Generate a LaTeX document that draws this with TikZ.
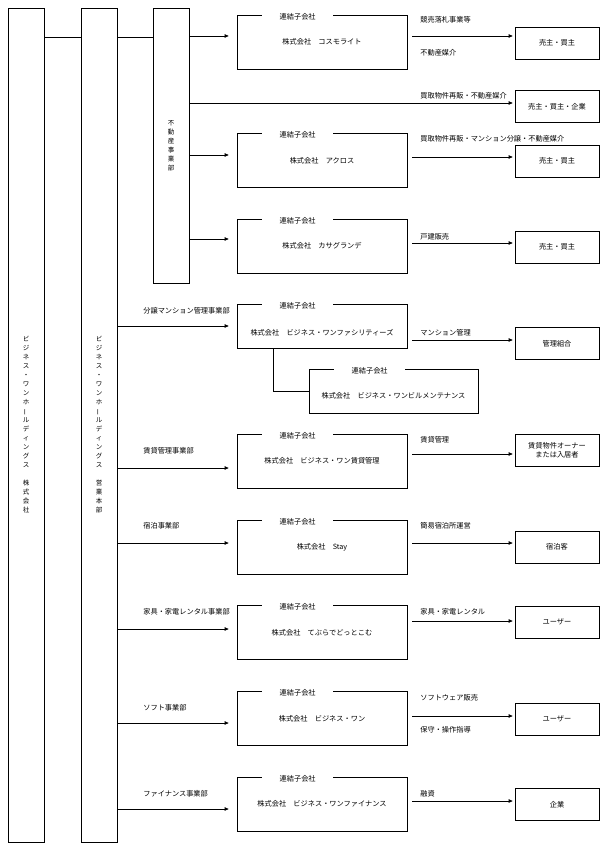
\documentclass[tikz,border=0pt]{standalone}
\usepackage{fontspec}
\setmainfont{Noto Sans CJK JP}
\usetikzlibrary{arrows.meta}

% vertical long vowel mark for the stacked column texts
\newcommand{\tatebar}{\rotatebox[origin=c]{90}{ー}}

\tikzset{
  colbox/.style={draw,minimum width=36pt,align=center,inner sep=0pt,
    font=\fontsize{6.5}{9}\selectfont},
  cobox/.style={draw,minimum width=170pt,minimum height=54pt,inner sep=0pt},
  cotag/.style={fill=white,minimum width=71pt,inner sep=0.6pt},
  client/.style={draw,minimum width=84pt,minimum height=32pt,align=center,inner sep=0pt},
  lbl/.style={anchor=west,inner sep=0pt},
  arr/.style={-{Triangle[length=4pt,width=3.5pt]}}
}

\begin{document}
\begin{tikzpicture}[x=1pt,y=-1pt,line width=0.7pt,font=\fontsize{7.2}{9}\selectfont]
	\useasboundingbox (0,0) rectangle (607,850);

	% columns
	\node[colbox,minimum height=834pt] (hd) at (26,425)
	{ビ\\ジ\\ネ\\ス\\・\\ワ\\ン\\ホ\\\tatebar\\ル\\デ\\ィ\\ン\\グ\\ス\\[9pt]株\\式\\会\\社};
	\node[colbox,minimum height=834pt] (sales) at (99,425)
	{ビ\\ジ\\ネ\\ス\\・\\ワ\\ン\\ホ\\\tatebar\\ル\\デ\\ィ\\ン\\グ\\ス\\[9pt]営\\業\\本\\部};
	\node[colbox,minimum height=275pt] (fudosan) at (171,145.5)
	{不\\動\\産\\事\\業\\部};

	\coordinate (link) at (0,37);
	\draw (hd.east |- link) -- (sales.west |- link);
	\draw (sales.east |- link) -- (fudosan.west |- link);

	% subsidiaries
	\node[cobox] (cosmo) at (322,42) {株式会社　コスモライト};
	\node[cobox] (acros) at (322,160.5) {株式会社　アクロス};
	\node[cobox] (kasa) at (322,246) {株式会社　カサグランデ};
	\node[cobox,minimum height=44pt] (fac) at (322,326) {};
	\node (facname) at (322,333) {株式会社　ビジネス・ワンファシリティーズ};
	\node[cobox,minimum width=169pt,minimum height=44pt] (bm) at (393.5,391) {};
	\node (bmname) at (393.5,396) {株式会社　ビジネス・ワンビルメンテナンス};
	\node[cobox] (chintai) at (322,461) {株式会社　ビジネス・ワン賃貸管理};
	\node[cobox] (stay) at (322,547) {株式会社　Stay};
	\node[cobox] (tepura) at (322,632.5) {株式会社　てぶらでどっとこむ};
	\node[cobox] (bizone) at (322,718.5) {株式会社　ビジネス・ワン};
	\node[cobox] (finance) at (322,804) {株式会社　ビジネス・ワンファイナンス};

	\foreach \c in {cosmo,acros,kasa,fac,bm,chintai,stay,tepura,bizone,finance}
		\node[cotag] (\c-tag) at ([xshift=61pt,yshift=-2pt]\c.north west) {連結子会社};

	\draw ([xshift=37pt]fac.south west) |- (bm.west);

	% customers
	\node[client] (u1) at (557,43) {売主・買主};
	\node[client] (u2) at (557,106.5) {売主・買主・企業};
	\node[client] (u3) at (557,161) {売主・買主};
	\node[client] (u4) at (557,247) {売主・買主};
	\node[client] (u5) at (557,343.5) {管理組合};
	\node[client] (u6) at (557,450) {賃貸物件オーナー\\または入居者};
	\node[client] (u7) at (557,547) {宿泊客};
	\node[client] (u8) at (557,622) {ユーザー};
	\node[client] (u9) at (557,719) {ユーザー};
	\node[client] (u10) at (557,804.5) {企業};

	% arrows into the subsidiaries
	\foreach \c/\d in {cosmo/6,acros/5.5,kasa/7,fac/0,chintai/-7,stay/4,tepura/3.5,bizone/-4.5,finance/-5}
		\coordinate (\c-in) at ([yshift=\d pt]\c.west);
	\foreach \c in {cosmo,acros,kasa}
		\draw[arr,shorten >=8pt] (fudosan.east |- \c-in) -- (\c-in);
	\foreach \c in {fac,chintai,stay,tepura,bizone,finance}
		\draw[arr,shorten >=8pt] (sales.east |- \c-in) -- (\c-in);

	% arrows to the customers
	\foreach \u/\d in {u1/7,u2/3.5,u3/4,u4/4,u5/3.5,u6/-4,u7/4,u8/1,u9/3,u10/3.5}
		\coordinate (\u-in) at ([yshift=\d pt]\u.west);
	\foreach \c/\u in {cosmo/u1,acros/u3,kasa/u4,fac/u5,chintai/u6,stay/u7,tepura/u8,bizone/u9,finance/u10}
		\draw[arr,shorten <=5pt,shorten >=2pt] (\c.east |- \u-in) -- (\u-in);
	\draw[arr,shorten >=2pt] (fudosan.east |- u2-in) -- (u2-in);

	% division labels
	\node[lbl] (d-fac) at (143,311) {分譲マンション管理事業部};
	\node[lbl] (d-chintai) at (143,451) {賃貸管理事業部};
	\node[lbl] (d-stay) at (143,526) {宿泊事業部};
	\node[lbl] (d-tepura) at (143,612) {家具・家電レンタル事業部};
	\node[lbl] (d-bizone) at (143,708) {ソフト事業部};
	\node[lbl] (d-finance) at (143,794) {ファイナンス事業部};

	% business labels
	\node[lbl] (b-cosmo1) at (420,20) {競売落札事業等};
	\node[lbl] (b-cosmo2) at (420,53) {不動産媒介};
	\node[lbl] (b-resale) at (420,96) {買取物件再販・不動産媒介};
	\node[lbl] (b-acros) at (420,139) {買取物件再販・マンション分譲・不動産媒介};
	\node[lbl] (b-kasa) at (420,237) {戸建販売};
	\node[lbl] (b-fac) at (420,333) {マンション管理};
	\node[lbl] (b-chintai) at (420,440) {賃貸管理};
	\node[lbl] (b-stay) at (420,526) {簡易宿泊所運営};
	\node[lbl] (b-tepura) at (420,612) {家具・家電レンタル};
	\node[lbl] (b-bizone1) at (420,698) {ソフトウェア販売};
	\node[lbl] (b-bizone2) at (420,730) {保守・操作指導};
	\node[lbl] (b-finance) at (420,794) {融資};
\end{tikzpicture}
\end{document}
